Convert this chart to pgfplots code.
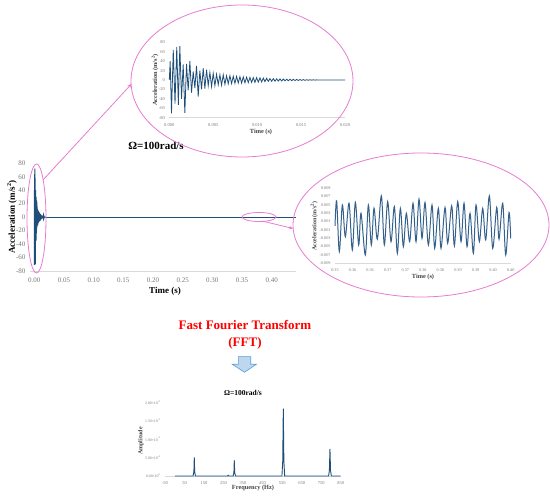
\documentclass[border=0pt]{standalone}
\usepackage{fontspec}
\setmainfont{Liberation Serif}
\usepackage{pgfplots}
\pgfplotsset{compat=1.18}
\usepackage{pgfplotstable}
\usetikzlibrary{arrows.meta}
\definecolor{sig}{RGB}{31,78,121}
\definecolor{sig2}{RGB}{52,96,140}
\definecolor{pinkline}{RGB}{230,125,210}
\definecolor{tickgray}{RGB}{120,120,120}
\definecolor{axgray}{RGB}{217,217,217}
\definecolor{arrowfill}{RGB}{189,215,238}
\definecolor{arrowdraw}{RGB}{91,155,213}

% transient response, first 0.02 s
\pgfplotstableread{
t a
0.00000 0
0.00010 40
0.00025 -71
0.00045 64
0.00065 -50
0.00085 70
0.00103 -53
0.00120 72
0.00139 -40
0.00158 33
0.00177 -70
0.00196 34
0.00215 -22
0.00234 40
0.00253 -27
0.00272 18
0.00291 -17
0.00310 30
0.00329 -35
0.00348 20
0.00367 -20
0.00386 25
0.00405 -18
0.00424 22
0.00443 -12
0.00462 16
0.00481 -14
0.00500 14
0.00519 -12
0.00538 12
0.00557 -10
0.00576 11
0.00595 -11
0.00614 11
0.00633 -9
0.00652 9
0.00671 -8
0.00690 9
0.00709 -7.5
0.00728 8
0.00747 -7
0.00766 7.5
0.00785 -6.5
0.00804 7
0.00823 -6.5
0.00842 6.5
0.00861 -6
0.00880 6
0.00899 -5.5
0.00918 5.5
0.00937 -5
0.00956 5
0.00975 -5
0.00994 5
0.01013 -4.5
0.01032 4.5
0.01051 -4
0.01070 4
0.01089 -3.5
0.01108 3.5
0.01127 -3
0.01146 3
0.01165 -2.8
0.01184 2.8
0.01203 -2.5
0.01222 2.5
0.01241 -2.2
0.01260 2.2
0.01279 -2
0.01298 2
0.01317 -1.8
0.01336 1.8
0.01355 -1.6
0.01374 1.6
0.01393 -1.4
0.01412 1.4
0.01431 -1.2
0.01450 1.2
0.01469 -1
0.01488 1
0.01507 -0.8
0.01526 0.8
0.01545 -0.7
0.01564 0.6
0.01583 -0.5
0.01602 0.5
0.01621 -0.4
0.01640 0.4
0.01659 -0.3
0.01678 0.3
0.01697 -0.2
0.01716 0.2
0.01735 0
0.02000 0
}\transient

% steady state, 0.35 - 0.40 s
\pgfplotstableread{
t a
0.35000 0.0000
0.35047 0.0060
0.35123 -0.0062
0.35209 0.0050
0.35294 -0.0026
0.35399 0.0054
0.35493 -0.0058
0.35579 0.0056
0.35674 -0.0046
0.35740 0.0030
0.35863 -0.0070
0.35949 0.0050
0.36034 -0.0046
0.36110 0.0042
0.36205 -0.0032
0.36319 0.0072
0.36404 -0.0046
0.36499 0.0058
0.36594 -0.0038
0.36689 0.0046
0.36774 -0.0066
0.36860 0.0042
0.36945 -0.0050
0.37030 0.0030
0.37125 -0.0038
0.37220 0.0054
0.37306 -0.0038
0.37391 0.0064
0.37476 -0.0030
0.37562 0.0056
0.37657 -0.0046
0.37761 0.0050
0.37837 -0.0054
0.37941 0.0042
0.38017 -0.0054
0.38131 0.0044
0.38207 -0.0042
0.38321 0.0048
0.38397 -0.0048
0.38492 0.0058
0.38587 -0.0038
0.38672 0.0054
0.38757 -0.0050
0.38843 0.0030
0.38938 -0.0066
0.39013 0.0050
0.39108 -0.0038
0.39203 0.0042
0.39289 -0.0034
0.39393 0.0072
0.39488 -0.0054
0.39602 0.0044
0.39668 -0.0032
0.39773 0.0054
0.39858 -0.0070
0.39953 0.0032
0.40000 -0.0030
}\steady

% FFT amplitude spectrum
\pgfplotstableread{
f a
0 0
94 0
98 0.00012
100 0.000507
102 0.00012
106 0
270 0
274 0.00002
278 0
299 0
303 0.0001
305 0.000426
307 0.0001
311 0
549 0
553 0.0004
556 0.00183
559 0.0004
563 0
788 0
792 0.00015
795 0.000733
798 0.00015
802 0
850 0
}\spectrum

\pgfplotsset{
  chartbase/.style={
    scale only axis,
    anchor=south west,
    axis x line*=bottom,
    axis y line*=left,
    x axis line style={axgray, line width=0.8pt},
    y axis line style={draw=none},
    major tick length=0pt,
    tick label style={text=tickgray},
    /pgf/number format/assume math mode=true,
    scaled ticks=false,
    clip=false,
  },
}

\begin{document}
\begin{tikzpicture}[x=1pt,y=1pt]
\path[use as bounding box] (0,0) rectangle (550,499);

% main time history
\begin{axis}[chartbase,
  at={(30pt,228pt)}, width=266pt, height=107.7pt,
  xmin=-0.0072, xmax=0.4409, ymin=-80, ymax=80,
  xtick={0,0.05,0.1,0.15,0.2,0.25,0.3,0.35,0.4},
  xticklabels={0.00,0.05,0.10,0.15,0.20,0.25,0.30,0.35,0.40},
  ytick={-80,-60,-40,-20,0,20,40,60,80},
  tick label style={font=\fontsize{7}{8}\selectfont},
  xticklabel style={yshift=-3pt},
  yticklabel style={xshift=-1pt},
]
\addplot[sig, line width=1pt] table[x=t,y=a] {\transient};
\addplot[sig, line width=1pt] coordinates {(0.02,0) (0.4409,0)};
\end{axis}

% zoom on the transient
\begin{axis}[chartbase,
  at={(169.3pt,381.3pt)}, width=175.7pt, height=75.4pt,
  xmin=0, xmax=0.02, ymin=-80, ymax=80,
  xtick={0,0.005,0.01,0.015,0.02},
  xticklabels={0.000,0.005,0.010,0.015,0.020},
  ytick={-80,-60,-40,-20,0,20,40,60,80},
  tick label style={font=\fontsize{4.5}{5}\selectfont},
  xticklabel style={yshift=-2pt},
  yticklabel style={xshift=-1pt},
  x axis line style={axgray, line width=0.5pt},
]
\addplot[sig, line width=0.8pt] table[x=t,y=a] {\transient};
\end{axis}

% zoom on the steady state
\begin{axis}[chartbase,
  at={(335pt,235.7pt)}, width=175.7pt, height=75pt,
  xmin=0.35, xmax=0.40, ymin=-0.009, ymax=0.009,
  xtick={0.35,0.355,0.36,0.365,0.37,0.375,0.38,0.385,0.39,0.395,0.4},
  xticklabels={0.35,0.36,0.36,0.37,0.37,0.38,0.38,0.39,0.39,0.40,0.40},
  ytick={-0.009,-0.007,-0.005,-0.003,-0.001,0.001,0.003,0.005,0.007,0.009},
  yticklabels={-0.009,-0.007,-0.005,-0.003,-0.001,0.001,0.003,0.005,0.007,0.009},
  tick label style={font=\fontsize{4.2}{5}\selectfont},
  xticklabel style={yshift=-2pt},
  yticklabel style={xshift=-1pt},
  x axis line style={axgray, line width=0.5pt},
]
\addplot[sig2, line width=1pt, smooth, tension=0.55] table[x=t,y=a] {\steady};
\end{axis}

% FFT
\begin{axis}[chartbase,
  at={(165pt,23pt)}, width=175.7pt, height=73.7pt,
  xmin=-50, xmax=850, ymin=0, ymax=0.002,
  xtick={-50,50,150,250,350,450,550,650,750,850},
  ytick={0,0.0005,0.001,0.0015,0.002},
  yticklabels={0.00×10\textsuperscript{0},5.00×10\textsuperscript{-4},1.00×10\textsuperscript{-3},1.50×10\textsuperscript{-3},2.00×10\textsuperscript{-3}},
  xticklabel style={font=\fontsize{4.5}{5}\selectfont, yshift=-2pt},
  yticklabel style={font=\fontsize{3.8}{4.5}\selectfont, xshift=-1pt},
  x axis line style={axgray, line width=0.5pt},
]
\addplot[sig, line width=0.9pt] table[x=f,y=a] {\spectrum};
\end{axis}

% labels
\node[rotate=90, font=\bfseries\fontsize{9}{10}\selectfont] at (12,282) {Acceleration (m/s\textsuperscript{2})};
\node[font=\bfseries\fontsize{9}{10}\selectfont] at (165,208) {Time (s)};
\node[font=\bfseries\fontsize{11}{12}\selectfont] at (156,353) {Ω=100rad/s};
\node[rotate=90, font=\bfseries\fontsize{6.3}{7}\selectfont, text=black!75] at (155,419) {Acceleration (m/s\textsuperscript{2})};
\node[font=\bfseries\fontsize{6.3}{7}\selectfont, text=black!75] at (261,367.3) {Time (s)};
\node[rotate=90, font=\bfseries\fontsize{6}{7}\selectfont, text=black!75] at (314,273) {Acceleration (m/s\textsuperscript{2})};
\node[font=\bfseries\fontsize{6.3}{7}\selectfont, text=black!75] at (423,222.3) {Time (s)};
\node[font=\bfseries\fontsize{13}{14}\selectfont, text=red] at (245,174) {Fast Fourier Transform};
\node[font=\bfseries\fontsize{13}{14}\selectfont, text=red] at (245,156) {(FFT)};
\node[font=\bfseries\fontsize{7.5}{8}\selectfont] at (243,106) {Ω=100rad/s};
\node[rotate=90, font=\bfseries\fontsize{6}{7}\selectfont, text=black!75] at (141,58) {Amplitude};
\node[font=\bfseries\fontsize{6.3}{7}\selectfont, text=black!75] at (253,11) {Frequency (Hz)};

% block arrow
\draw[arrowdraw, fill=arrowfill, line width=0.6pt]
  (238.3,142.3) -- (250.7,142.3) -- (250.7,134.7) -- (256.3,134.7) -- (244.5,126.7)
  -- (232.3,134.7) -- (238.3,134.7) -- cycle;

% highlight ellipses and leaders
\begin{scope}[pinkline, line width=0.8pt]
\draw (242,418) ellipse [x radius=111pt, y radius=76pt];
\draw (421,274) ellipse [x radius=128pt, y radius=72pt];
\draw (36.5,280.5) ellipse [x radius=9.5pt, y radius=54.5pt];
\draw (259,282) ellipse [x radius=17pt, y radius=4.5pt];
\draw[-{Stealth[length=4pt,width=3.5pt]}] (43,319) -- (131.5,415);
\draw[-{Stealth[length=4pt,width=3.5pt]}] (262,278) -- (293,270.5);
\end{scope}
\end{tikzpicture}
\end{document}
